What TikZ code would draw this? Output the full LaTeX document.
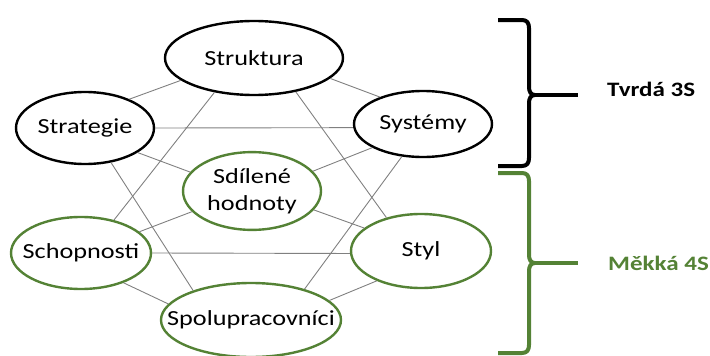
\documentclass[tikz,border=0pt]{standalone}
\usepackage{fontspec}
\setmainfont{Carlito}[FakeStretch=1.22]
\usetikzlibrary{shapes.geometric}
\definecolor{sgreen}{RGB}{84,130,53}
\definecolor{lgray}{RGB}{128,128,128}
\newcommand{\zw}[1]{\makebox[0pt][c]{#1}}
\begin{document}
\begin{tikzpicture}[x=1pt,y=-1pt,
  es/.style={ellipse,line width=2.4pt,inner sep=0pt,font=\fontsize{21.5}{28}\selectfont},
  hard/.style={es,draw=black},
  soft/.style={es,draw=sgreen},
  link/.style={draw=lgray,line width=0.9pt},
  bracepath/.style={line width=4pt,line join=round},
  grouplabel/.style={anchor=base west,inner sep=0pt,font=\fontsize{20.5}{24}\selectfont\bfseries}]
\useasboundingbox (0,0) rectangle (710,356);
% nodes
\node[hard,minimum width=178,minimum height=74] (struk) at (254,58) {\zw{Struktura}};
\node[hard,minimum width=138,minimum height=72] (strat) at (85,128) {\zw{Strategie}};
\node[hard,minimum width=138,minimum height=66] (syst) at (423,124) {\zw{Systémy}};
\node[soft,minimum width=138,minimum height=72] (sdil) at (252,191) {\zw{\begin{tabular}{@{}c@{}}Sdílené\\[-1pt]hodnoty\end{tabular}}};
\node[soft,minimum width=140,minimum height=72] (schop) at (81,253) {\zw{Schopnosti}};
\node[soft,minimum width=140,minimum height=74] (styl) at (421,251) {\zw{Styl}};
\node[soft,minimum width=180,minimum height=74] (spol) at (251,320) {\zw{Spolupracovníci}};
% connectors
\draw[link] (strat.33) -- (struk.197);
\draw[link] (struk.345) -- (syst.148);
\draw[link] (strat.east) -- (syst.183.3);
\draw[link] (strat.335) -- (sdil.163);
\draw[link] (syst.205) -- (sdil.18);
\draw[link] (struk.221) -- (schop.45);
\draw[link] (struk.321) -- (styl.136);
\draw[link] (strat.307) -- (spol.153);
\draw[link] (syst.237) -- (spol.30);
\draw[link] (sdil.199) -- (schop.20);
\draw[link] (sdil.343) -- (styl.158);
\draw[link] (schop.east) -- (styl.182);
\draw[link] (schop.325) -- (spol.169.5);
\draw[link] (styl.214) -- (spol.14.6);
% braces
\draw[bracepath] (498,20) -- (522,20) .. controls (527,20) and (529,23) .. (529,28)
  -- (529,87) .. controls (529,92) and (531,95) .. (535,95)
  .. controls (531,95) and (529,98) .. (529,103)
  -- (529,158) .. controls (529,163) and (527,166) .. (522,166) -- (498,166);
\coordinate (hardtip) at (533,95);
\coordinate (hardend) at (578,95);
\draw[bracepath] (hardtip) -- (hardend);
\draw[bracepath,draw=sgreen] (498,173) -- (522,173) .. controls (527,173) and (529,176) .. (529,181)
  -- (529,255) .. controls (529,260) and (531,263) .. (535,263)
  .. controls (531,263) and (529,266) .. (529,271)
  -- (529,345) .. controls (529,350) and (527,353) .. (522,353) -- (498,353);
\coordinate (softtip) at (533,263);
\coordinate (softend) at (578,263);
\draw[bracepath,draw=sgreen] (softtip) -- (softend);
% labels
\node[grouplabel] (hardlab) at (607,96) {Tvrdá 3S};
\node[grouplabel,text=sgreen] (softlab) at (608,270) {Měkká 4S};
\end{tikzpicture}
\end{document}
